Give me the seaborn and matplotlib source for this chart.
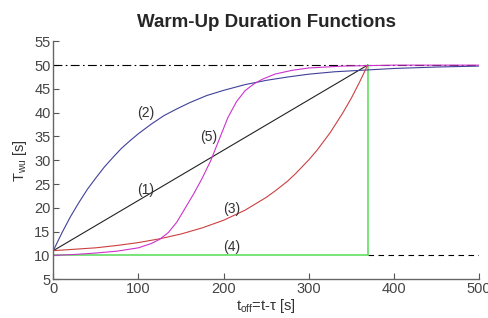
import matplotlib
matplotlib.use("Agg")
import matplotlib.pyplot as plt
import seaborn as sns
import pandas as pd

# values
t_off_end = 369

t_lin = [0, 369]
T_lin = [11.0, 50.0]

t_exp = [0, 10, 20, 30, 40, 50, 60, 70, 80, 90, 100, 115, 130, 145, 160, 180, 200, 225, 250, 275, 300, 330, 360, 400, 450, 500]
T_exp = [11.0, 14.7, 18.1, 21.1, 23.9, 26.3, 28.6, 30.6, 32.5, 34.1, 35.6, 37.6, 39.4, 40.8, 42.1, 43.6, 44.7, 45.9, 46.8, 47.5, 48.1, 48.6, 48.9, 49.3, 49.6, 49.8]

t_conv = [0, 25, 50, 75, 100, 125, 150, 175, 200, 225, 250, 260, 275, 285, 300, 310, 325, 340, 350, 360, 369]
T_conv = [11.0, 11.3, 11.6, 12.1, 12.7, 13.5, 14.5, 15.8, 17.4, 19.5, 22.2, 23.5, 25.6, 27.3, 30.1, 32.2, 35.8, 40.0, 43.1, 46.6, 50.0]

t_step = [0, 369, 369]
T_step = [10.0, 10.0, 50.0]

t_sig = [0, 25, 50, 75, 100, 115, 125, 135, 145, 155, 165, 175, 185, 195, 205, 215, 225, 235, 245, 260, 280, 300, 340, 400, 500]
T_sig = [10.0, 10.2, 10.5, 10.9, 11.6, 12.5, 13.4, 14.8, 17.0, 20.0, 23.0, 26.3, 30.0, 34.5, 39.0, 42.3, 44.6, 46.0, 47.0, 48.1, 48.9, 49.4, 49.8, 50.0, 50.0]

labels = ["(1)", "(2)", "(3)", "(4)", "(5)"]
label_t = [108, 108, 209, 209, 183]
label_T = [23.8, 39.9, 19.8, 11.7, 34.8]

x_ticks = [0, 100, 200, 300, 400, 500]
y_ticks = [5, 10, 15, 20, 25, 30, 35, 40, 45, 50, 55]

sns.set_style("ticks")
plt.rcParams['font.family'] = ['Liberation Sans', 'DejaVu Sans']

fig = plt.figure(figsize=(4.89, 3.18), dpi=100)
ax = fig.add_axes([0.109, 0.122, 0.871, 0.748])

# reference levels
ax.axhline(50, color='black', lw=0.8, ls=(0, (8, 3, 1.5, 3)))
ax.plot([t_off_end, 500], [10, 10], color='black', lw=0.8, ls=(0, (5, 4)))

sns.lineplot(x=t_step, y=T_step, ax=ax, color='#55dd55', lw=1.1, sort=False, estimator=None)
sns.lineplot(x=t_lin, y=T_lin, ax=ax, color='#222222', lw=0.8, estimator=None)
sns.lineplot(x=t_exp, y=T_exp, ax=ax, color='#40409a', lw=0.8, estimator=None)
sns.lineplot(x=t_conv, y=T_conv, ax=ax, color='#cc4040', lw=0.8, estimator=None)
sns.lineplot(x=t_sig, y=T_sig, ax=ax, color='#cc33cc', lw=0.8, estimator=None)

for lab, xt, yt in zip(labels, label_t, label_T):
    ax.text(xt, yt, lab, ha='center', va='center', fontsize=10, color='#333333')

ax.set_xlim(0, 500)
ax.set_ylim(5, 55)
ax.set_xticks(x_ticks)
ax.set_yticks(y_ticks)
ax.tick_params(direction='in', length=4, width=0.8, colors='#555555', labelcolor='#444444', labelsize=10.5, pad=2)
sns.despine(ax=ax)
for s in ['left', 'bottom']:
    ax.spines[s].set_color('#666666')
    ax.spines[s].set_linewidth(1.0)

ax.set_title('Warm-Up Duration Functions', fontsize=13.5, fontweight='bold', pad=10)
ax.set_xlabel(r'$\mathregular{t_{off}}$=t-τ [s]', fontsize=10.5, color='#333333', labelpad=1)
ax.set_ylabel(r'$\mathregular{T_{wu}}$ [s]', fontsize=10.5, color='#333333', labelpad=4)

fig.savefig('out.png', dpi=100)
